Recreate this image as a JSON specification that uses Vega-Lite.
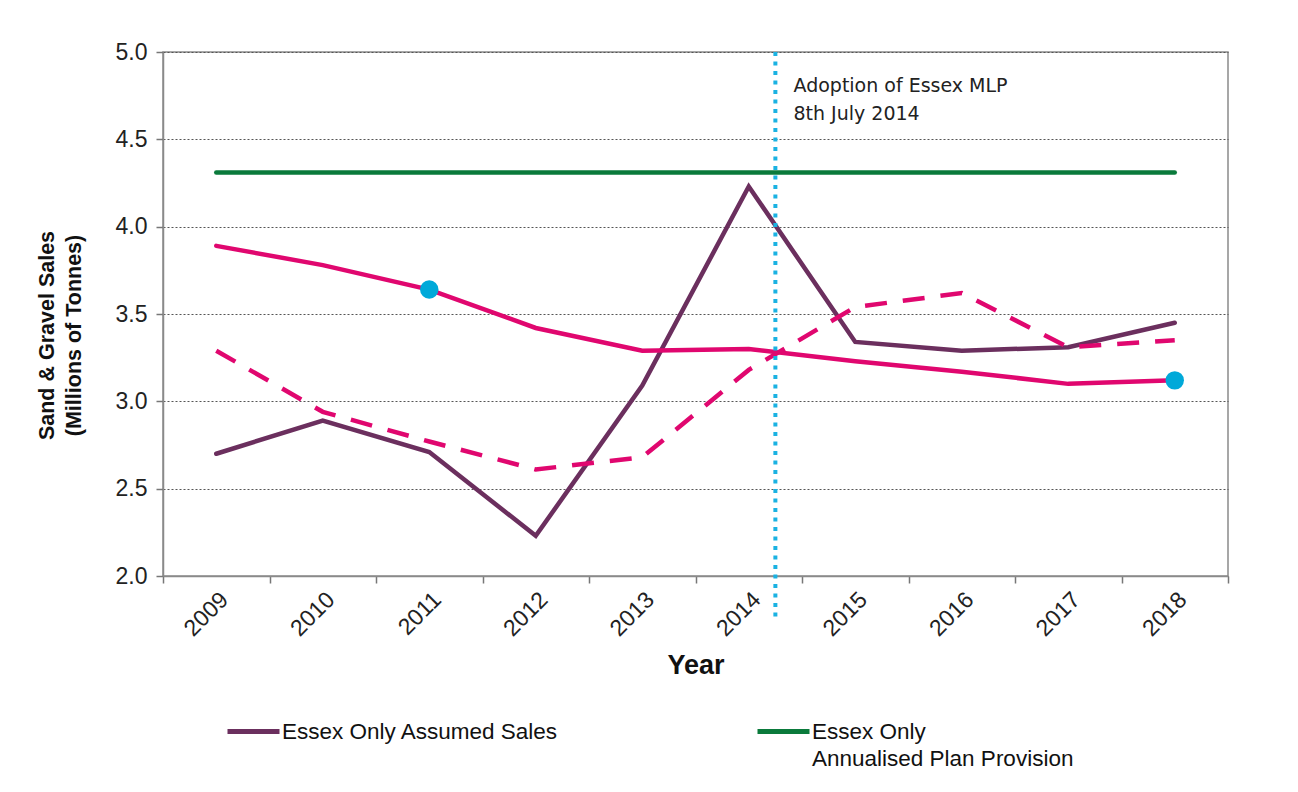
{
  "$schema": "https://vega.github.io/schema/vega-lite/v6.json",
  "width": 1065,
  "height": 524,
  "autosize": "none",
  "padding": {"left": 163, "top": 52, "right": 70, "bottom": 216},
  "background": "white",
  "config": {
    "font": "Liberation Sans",
    "view": {"stroke": "#8a8a8a", "strokeWidth": 1.5},
    "style": {"guide-label": {"lineHeight": 27}}
  },
  "data": {
    "values": [
      {"year": "2009", "series": "Essex Only Assumed Sales", "value": 2.70},
      {"year": "2010", "series": "Essex Only Assumed Sales", "value": 2.89},
      {"year": "2011", "series": "Essex Only Assumed Sales", "value": 2.71},
      {"year": "2012", "series": "Essex Only Assumed Sales", "value": 2.23},
      {"year": "2013", "series": "Essex Only Assumed Sales", "value": 3.09},
      {"year": "2014", "series": "Essex Only Assumed Sales", "value": 4.23},
      {"year": "2015", "series": "Essex Only Assumed Sales", "value": 3.34},
      {"year": "2016", "series": "Essex Only Assumed Sales", "value": 3.29},
      {"year": "2017", "series": "Essex Only Assumed Sales", "value": 3.31},
      {"year": "2018", "series": "Essex Only Assumed Sales", "value": 3.45},
      {"year": "2009", "series": "Essex Only Annualised Plan Provision", "value": 4.31},
      {"year": "2010", "series": "Essex Only Annualised Plan Provision", "value": 4.31},
      {"year": "2011", "series": "Essex Only Annualised Plan Provision", "value": 4.31},
      {"year": "2012", "series": "Essex Only Annualised Plan Provision", "value": 4.31},
      {"year": "2013", "series": "Essex Only Annualised Plan Provision", "value": 4.31},
      {"year": "2014", "series": "Essex Only Annualised Plan Provision", "value": 4.31},
      {"year": "2015", "series": "Essex Only Annualised Plan Provision", "value": 4.31},
      {"year": "2016", "series": "Essex Only Annualised Plan Provision", "value": 4.31},
      {"year": "2017", "series": "Essex Only Annualised Plan Provision", "value": 4.31},
      {"year": "2018", "series": "Essex Only Annualised Plan Provision", "value": 4.31},
      {"year": "2009", "series": "10-year average", "value": 3.89},
      {"year": "2010", "series": "10-year average", "value": 3.78},
      {"year": "2011", "series": "10-year average", "value": 3.64},
      {"year": "2012", "series": "10-year average", "value": 3.42},
      {"year": "2013", "series": "10-year average", "value": 3.29},
      {"year": "2014", "series": "10-year average", "value": 3.30},
      {"year": "2015", "series": "10-year average", "value": 3.23},
      {"year": "2016", "series": "10-year average", "value": 3.17},
      {"year": "2017", "series": "10-year average", "value": 3.10},
      {"year": "2018", "series": "10-year average", "value": 3.12},
      {"year": "2009", "series": "3-year average", "value": 3.29},
      {"year": "2010", "series": "3-year average", "value": 2.94},
      {"year": "2011", "series": "3-year average", "value": 2.77},
      {"year": "2012", "series": "3-year average", "value": 2.61},
      {"year": "2013", "series": "3-year average", "value": 2.68},
      {"year": "2014", "series": "3-year average", "value": 3.18},
      {"year": "2015", "series": "3-year average", "value": 3.54},
      {"year": "2016", "series": "3-year average", "value": 3.62},
      {"year": "2017", "series": "3-year average", "value": 3.31},
      {"year": "2018", "series": "3-year average", "value": 3.35},
      {"year": "2014", "series": "Adoption", "value": 5.0, "value2": 1.76, "note": "Adoption of Essex MLP\n8th July 2014"}
    ]
  },
  "encoding": {
    "x": {
      "field": "year",
      "type": "ordinal",
      "scale": {"type": "band", "paddingInner": 0, "paddingOuter": 0},
      "axis": {
        "title": "Year",
        "titleFontSize": 27,
        "titleFontWeight": "bold",
        "titleColor": "#111",
        "titlePadding": 12,
        "labelAngle": -45,
        "labelFontSize": 23,
        "labelColor": "#222",
        "labelPadding": 5,
        "tickBand": "extent",
        "tickSize": 7,
        "tickColor": "#777",
        "tickWidth": 1.5,
        "domainColor": "#8a8a8a",
        "domainWidth": 1.5,
        "grid": false
      }
    },
    "y": {
      "field": "value",
      "type": "quantitative",
      "scale": {"domain": [2, 5], "nice": false, "zero": false},
      "axis": {
        "values": [2, 2.5, 3, 3.5, 4, 4.5, 5],
        "format": ".1f",
        "title": ["Sand & Gravel Sales", "(Millions of Tonnes)"],
        "titleFontSize": 21.5,
        "titleFontWeight": "bold",
        "titleColor": "#111",
        "titleLineHeight": 27,
        "titlePadding": 30,
        "titleY": 283,
        "labelFontSize": 23,
        "labelColor": "#222",
        "labelPadding": 9,
        "tickSize": 7,
        "tickColor": "#777",
        "tickWidth": 1.5,
        "domainColor": "#8a8a8a",
        "domainWidth": 1.5,
        "grid": true,
        "gridColor": "#555",
        "gridDash": [2, 2],
        "gridWidth": 1
      }
    }
  },
  "layer": [
    {
      "transform": [{"filter": "datum.series == 'Essex Only Assumed Sales' || datum.series == 'Essex Only Annualised Plan Provision'"}],
      "mark": {"type": "line", "strokeWidth": 4.5, "strokeCap": "round"},
      "encoding": {
        "color": {
          "field": "series",
          "type": "nominal",
          "scale": {
            "domain": ["Essex Only Assumed Sales", "Essex Only Annualised Plan Provision"],
            "range": ["#6b2f5e", "#0a7a3b"]
          },
          "legend": {
            "title": null,
            "orient": "none",
            "legendX": 62,
            "legendY": 651,
            "direction": "horizontal",
            "columns": 2,
            "gridAlign": "all",
            "columnPadding": 188,
            "symbolType": "stroke",
            "symbolSize": 2704,
            "symbolStrokeWidth": 5,
            "labelFontSize": 22.5,
            "labelColor": "#111",
            "labelOffset": 0,
            "labelLimit": 400,
            "labelBaseline": "middle",
            "labelExpr": "datum.label == 'Essex Only Annualised Plan Provision' ? ['Essex Only', 'Annualised Plan Provision'] : [datum.label, '']"
          }
        }
      }
    },
    {
      "transform": [{"filter": "datum.series == '10-year average'"}],
      "mark": {"type": "line", "strokeWidth": 4.5, "color": "#e0076f", "strokeCap": "round"},
      "encoding": {}
    },
    {
      "transform": [{"filter": "datum.series == '3-year average'"}],
      "mark": {"type": "line", "strokeWidth": 4.5, "color": "#e0076f", "strokeDash": [22, 16]},
      "encoding": {}
    },
    {
      "transform": [{"filter": "datum.series == '10-year average' && (datum.year == '2011' || datum.year == '2018')"}],
      "mark": {"type": "point", "filled": true, "opacity": 1, "color": "#00a9d9", "size": 340},
      "encoding": {}
    },
    {
      "transform": [{"filter": "datum.series == 'Adoption'"}],
      "mark": {"type": "rule", "color": "#1ab2e2", "strokeWidth": 4, "strokeDash": [4, 5.5]},
      "encoding": {
        "x": {"field": "year", "type": "ordinal", "bandPosition": 0.75},
        "y2": {"field": "value2"}
      }
    },
    {
      "transform": [{"filter": "datum.series == 'Adoption'"}],
      "mark": {"type": "text", "align": "left", "baseline": "top", "fontSize": 19, "lineHeight": 28, "lineBreak": "\n", "color": "#222", "font": "DejaVu Sans", "dy": 25},
      "encoding": {
        "x": {"field": "year", "type": "ordinal", "bandPosition": 0.92},
        "text": {"field": "note"}
      }
    }
  ]
}
